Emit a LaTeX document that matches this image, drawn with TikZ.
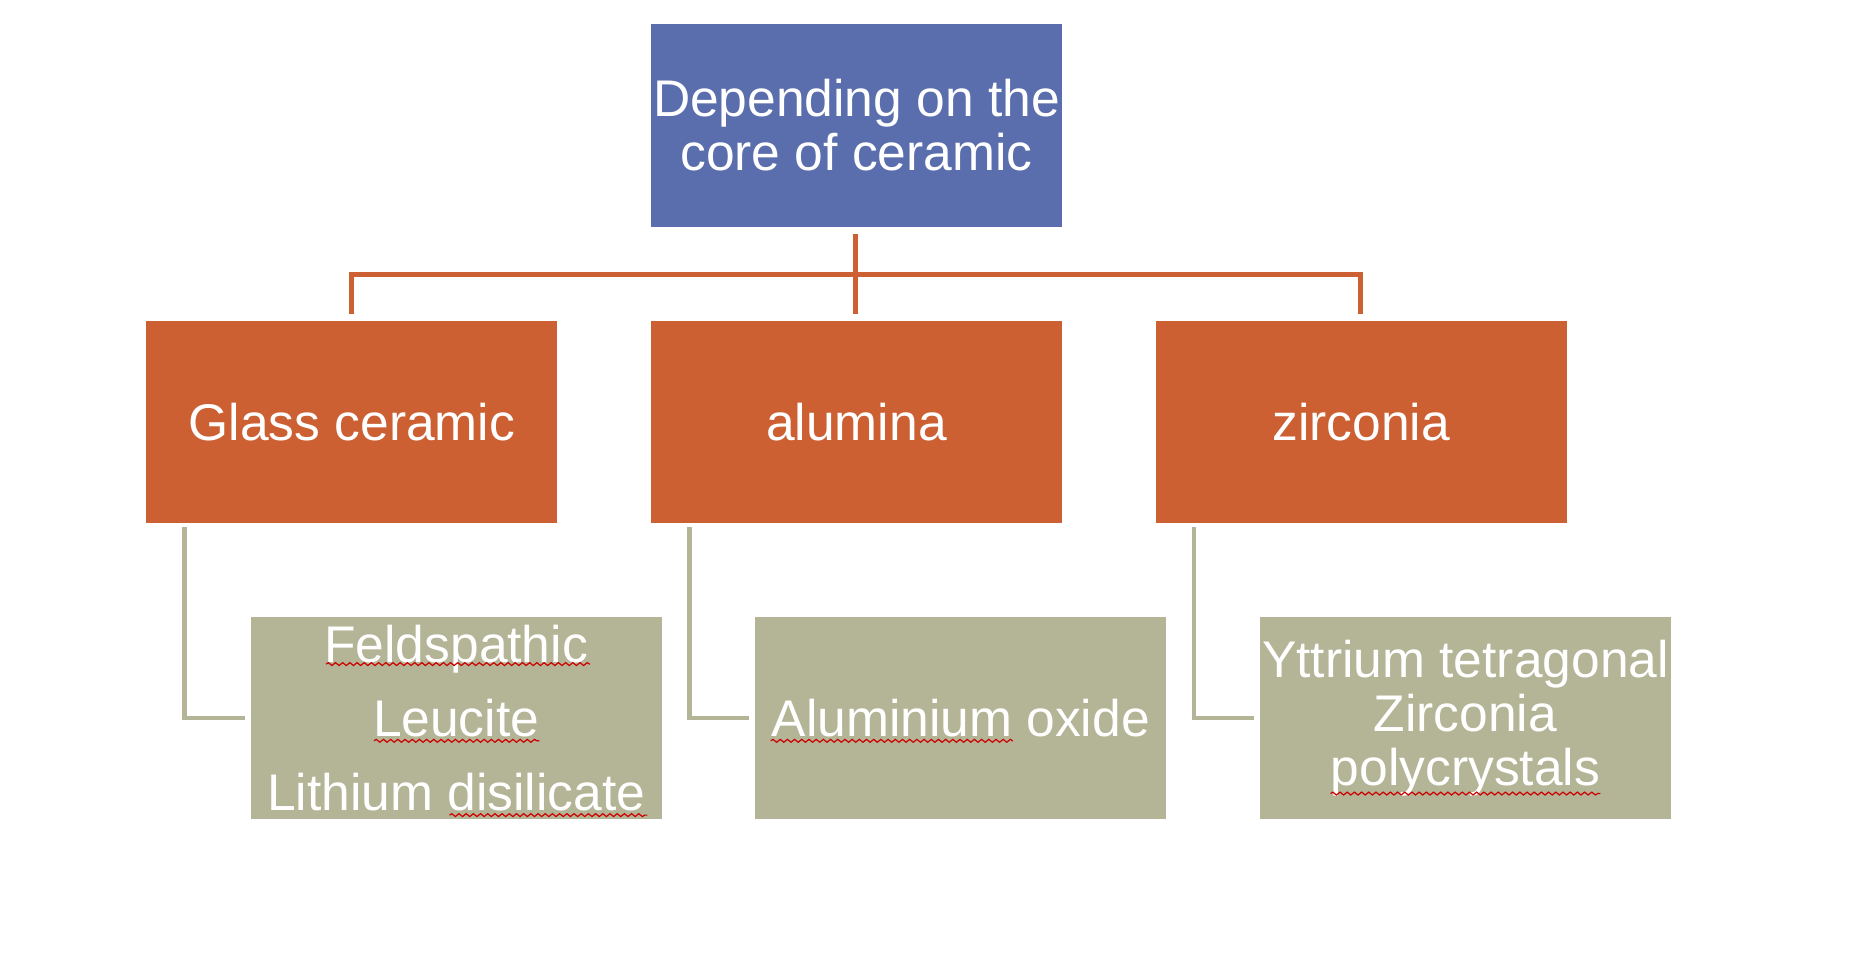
\documentclass[tikz,border=0pt]{standalone}
\usepackage{fontspec}
\setmainfont{Liberation Sans}
\usetikzlibrary{decorations.pathmorphing}
\definecolor{topblue}{HTML}{5A6EAD}
\definecolor{orng}{HTML}{CC6033}
\definecolor{olive}{HTML}{B4B496}
\begin{document}
\begin{tikzpicture}[x=0.5pt,y=-0.5pt,
  box/.style={minimum width=171.5pt,minimum height=84.5pt,inner sep=0pt,text=white,align=center,font=\fontsize{21.5}{22.5}\selectfont},
  olink/.style={draw=orng,line width=2pt},
  glink/.style={draw=olive,line width=2pt},
  spell/.style={draw=red!80!black,line width=0.5pt,decorate,decoration={snake,amplitude=0.6pt,segment length=3pt}}]
\useasboundingbox (0,0) rectangle (1560,802);
\node[box,fill=topblue] (top) at (714.5,104.5) {Depending on the\\core of ceramic};
\node[box,fill=orng] (b1) at (293.5,352) {Glass ceramic};
\node[box,fill=orng] (b2) at (714.5,352) {alumina};
\node[box,fill=orng] (b3) at (1135.5,352) {zirconia};
\node[box,fill=olive,font=\fontsize{21.5}{31}\selectfont] (c1) at (380.5,599) {Feldspathic\\Leucite\\Lithium disilicate};
\node[box,fill=olive] (c2) at (801.5,599) {Aluminium oxide};
\node[box,fill=olive] (c3) at (1222.5,599) {Yttrium tetragonal\\Zirconia\\polycrystals};
% orange tree
\coordinate (h) at (714,229);
\draw[olink] (714,195) -- (h);
\draw[olink] (714,229) -- (714,262);
\draw[olink] (293,262) -- (293,229) -- (1135,229) -- (1135,262);
% olive links
\draw[glink] (154,440) |- (204,599);
\draw[glink] (575,440) |- (625,599);
\draw[glink] (996,440) |- (1046,599);
% spell-check marks
\draw[spell] (272,554) -- (492,554);
\draw[spell] (312,618) -- (450,618);
\draw[spell] (375,680) -- (540,680);
\draw[spell] (643,618) -- (845,618);
\draw[spell] (1110,662) -- (1335,662);
\end{tikzpicture}
\end{document}
